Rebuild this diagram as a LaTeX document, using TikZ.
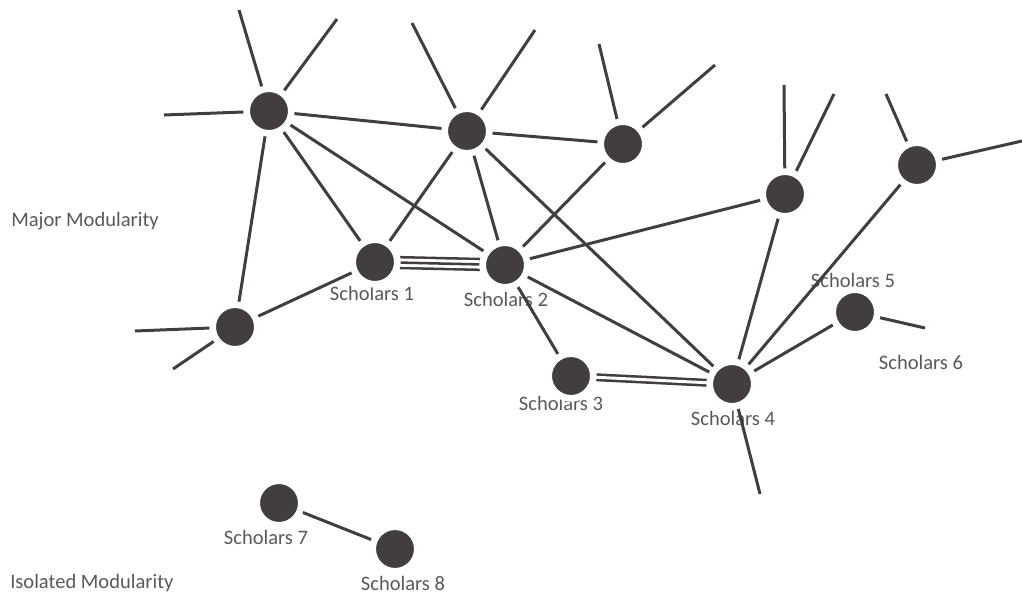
\documentclass[tikz,border=0pt]{standalone}
\usepackage{fontspec}
\setmainfont{Carlito}
\usetikzlibrary{backgrounds}
\definecolor{ink}{HTML}{433E3E}
\definecolor{txt}{HTML}{595959}
\begin{document}
\begin{tikzpicture}[x=0.75pt,y=-0.75pt,
  hub/.style={circle,fill=ink,draw=white,line width=5pt,minimum size=33.5pt,inner sep=0pt},
  link/.style={draw=ink,line width=2.25pt},
  lbl/.style={text=txt,font=\fontsize{15.4}{18}\selectfont,anchor=base,inner sep=0pt},
  side/.style={text=txt,font=\fontsize{15.4}{18}\selectfont,anchor=base west,inner sep=0pt}]
\useasboundingbox (0,0) rectangle (1022,594);
% nodes
\node[hub] (A) at (269,111) {};
\node[hub] (B) at (467,131) {};
\node[hub] (C) at (623,144) {};
\node[hub] (D) at (785,194) {};
\node[hub] (E) at (917,165) {};
\node[hub] (G) at (235,327) {};
\node[hub] (S1) at (375,262) {};
\node[hub] (S2) at (505,265) {};
\node[hub] (S3) at (571,376) {};
\node[hub] (S4) at (732,384) {};
\node[hub] (S5) at (855,312) {};
\node[hub] (S7) at (279,503) {};
\node[hub] (S8) at (395,549) {};
% free ends
\coordinate (a1) at (239,10);
\coordinate (a2) at (337,19);
\coordinate (a3) at (164,115);
\coordinate (b1) at (412,23);
\coordinate (b2) at (535,30);
\coordinate (c1) at (599,44);
\coordinate (c2) at (715,65);
\coordinate (d1) at (784,85);
\coordinate (d2) at (834,94);
\coordinate (e1) at (886,94);
\coordinate (e2) at (1022,141);
\coordinate (g1) at (135,331);
\coordinate (g2) at (173,369);
\coordinate (s4a) at (760,494);
\coordinate (s5a) at (925,328);
\begin{pgfonlayer}{background}
% labels
\node[side] (mm) at (11,226) {Major Modularity};
\node[side] (im) at (10,588) {Isolated Modularity};
\node[lbl] (l1) at (372,300) {Scholars 1};
\node[lbl] (l2) at (506,306) {Scholars 2};
\node[lbl] (l3) at (561,410) {Scholars 3};
\node[lbl] (l4) at (733,425) {Scholars 4};
\node[lbl] (l5) at (853,287) {Scholars 5};
\node[lbl] (l6) at (921,369) {Scholars 6};
\node[lbl] (l7) at (266,544) {Scholars 7};
\node[lbl] (l8) at (403,590) {Scholars 8};
% edges
\foreach \u/\v in {A/B,A/G,A/S1,A/S2,B/C,B/S1,B/S2,B/S4,C/S2,D/S2,D/S4,E/S4,S1/G,S2/S3,S2/S4,S4/S5,S7/S8}
  \draw[link] (\u.center) -- (\v.center);
\foreach \u/\v in {A/a1,A/a2,A/a3,B/b1,B/b2,C/c1,C/c2,D/d1,D/d2,E/e1,E/e2,G/g1,G/g2,S4/s4a,S5/s5a}
  \draw[link] (\u.center) -- (\v);
% multiple links
\draw[draw=ink,line width=1.9pt,double=white,double distance=6.2pt] (S1.center) -- (S2.center);
\draw[draw=ink,line width=1.9pt] (S1.center) -- (S2.center);
\draw[draw=ink,line width=1.9pt,double=white,double distance=2.2pt] (S3.center) -- (S4.center);
\end{pgfonlayer}
\end{tikzpicture}
\end{document}
